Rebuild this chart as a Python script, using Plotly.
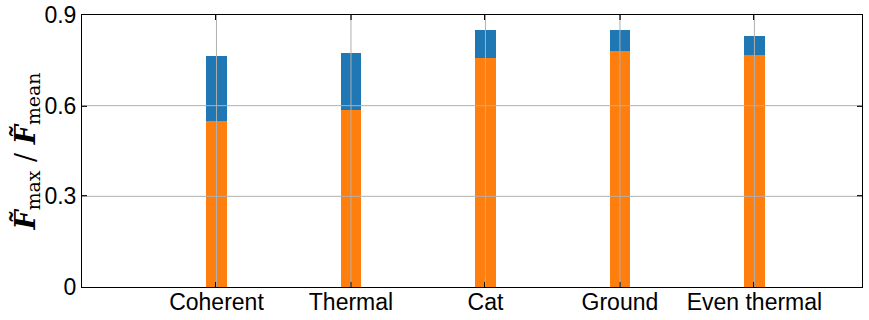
import plotly.graph_objects as go

categories = ["Coherent", "Thermal", "Cat", "Ground", "Even thermal"]
blue_values = [0.764, 0.774, 0.850, 0.850, 0.831]
orange_values = [0.549, 0.586, 0.758, 0.781, 0.768]
y_ticks = [0, 0.3, 0.6, 0.9]
y_ticktext = ["0", "0.3", "0.6", "0.9"]

xpos = list(range(len(categories)))

fig = go.Figure()
fig.add_trace(go.Bar(x=xpos, y=blue_values, width=0.15, marker=dict(color="#1f77b4", line=dict(width=0)), showlegend=False))
fig.add_trace(go.Bar(x=xpos, y=orange_values, width=0.15, marker=dict(color="#ff7f0e", line=dict(width=0)), showlegend=False))

# grid lines drawn above the bars, as in the reference
grid_style = dict(color="#b0b0b0", width=1)
for xv in xpos:
    fig.add_shape(type="line", xref="x", yref="paper", x0=xv, x1=xv, y0=0, y1=1, line=grid_style, layer="above")
for yv in y_ticks[1:-1]:
    fig.add_shape(type="line", xref="paper", yref="y", x0=0, x1=1, y0=yv, y1=yv, line=grid_style, layer="above")

axis_common = dict(
    showline=True, linecolor="black", linewidth=1, mirror="ticks",
    ticks="inside", ticklen=5, tickwidth=2, tickcolor="black",
    showgrid=False, zeroline=False, layer="above traces", automargin=False,
    tickfont=dict(family="Liberation Sans, Arial, sans-serif", size=23, color="black"),
)

fig.update_layout(
    width=869, height=320,
    margin=dict(l=82, r=7, t=15, b=33),
    paper_bgcolor="white", plot_bgcolor="white",
    barmode="overlay",
    bargap=0,
    xaxis=dict(range=[-1, 4.8], tickvals=xpos, ticktext=categories, ticklabelstandoff=-6, **axis_common),
    yaxis=dict(range=[0, 0.9], tickvals=y_ticks, ticktext=y_ticktext,
               title=dict(text="<b><i>F̃</i></b><sub>max</sub> / <b><i>F̃</i></b><sub>mean</sub>",
                          font=dict(family="DejaVu Serif, Liberation Serif, serif", size=27, color="black"),
                          standoff=0),
               **axis_common),
)

fig.write_html("out.html", config={"displayModeBar": False},
               post_script="document.body.style.margin='0';")
